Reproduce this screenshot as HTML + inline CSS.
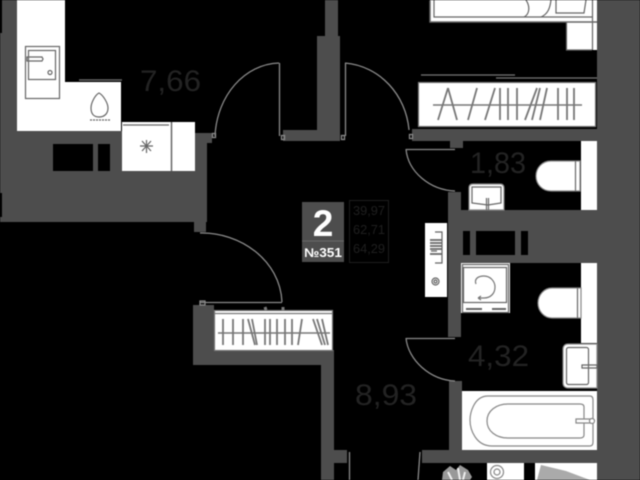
<!DOCTYPE html>
<html><head><meta charset="utf-8"><style>
html,body{margin:0;padding:0;background:#000;width:640px;height:480px;overflow:hidden}
svg{display:block;filter:blur(.45px)}
text{font-family:"Liberation Sans",sans-serif}
</style></head><body>
<svg width="640" height="480" viewBox="0 0 640 480" xmlns="http://www.w3.org/2000/svg">
<rect width="640" height="480" fill="#000"/>
<g fill="#4d4d4d">
<path d="M2 0H17V131H195V122H195V133H212V143H207V222H206V232H194V222H0V217H2V193H0V33H2Z"/>
<rect x="325" y="0" width="13" height="36"/>
<rect x="317" y="36" width="23" height="105"/>
<rect x="283" y="130" width="37" height="11"/>
<rect x="597" y="0" width="43" height="480"/>
<rect x="412" y="129" width="185" height="12"/>
<rect x="450" y="141" width="13" height="7"/>
<rect x="448" y="192" width="13" height="145"/>
<rect x="448" y="210" width="192" height="53"/>
<rect x="449" y="381" width="13" height="75"/>
<rect x="422" y="450" width="175" height="13"/>
<rect x="321" y="450" width="26" height="13"/>
<rect x="321" y="350" width="13" height="130"/>
<path d="M193 305H214V351H334V365H193Z"/>
</g>
<g fill="#000">
<rect x="53" y="144" width="40" height="27"/><rect x="98" y="144" width="12" height="27"/>
<rect x="463" y="231" width="7" height="24"/><rect x="476" y="231" width="39" height="24"/><rect x="521" y="231" width="7" height="24"/>
</g>
<g fill="#fff">
<path d="M17 0H65V82H121V131H17Z"/>
<rect x="122" y="122" width="73" height="49"/>
<rect x="430" y="0" width="167" height="22"/>
<rect x="566" y="22" width="31" height="28"/>
<rect x="418" y="82" width="178" height="45"/>
<rect x="214" y="310" width="119" height="41"/>
<rect x="581" y="141" width="16" height="69"/>
<rect x="581" y="263" width="16" height="80"/>
<rect x="425" y="223" width="22" height="74"/>
<rect x="461" y="263" width="49" height="50"/>
<rect x="462" y="391" width="135" height="59"/>
<rect x="487" y="463" width="37" height="17"/>
<rect x="535" y="463" width="62" height="17"/>
</g>
<g fill="none" stroke="#666" stroke-width="1.200">
<rect x="25.500" y="46.500" width="34" height="52"/>
<rect x="28.500" y="50.500" width="27" height="29"/>
<path d="M27 57H42L43 59L42 61H27Z"/>
<circle cx="50" cy="72.500" r="2"/>
<path d="M99 93C95 95 91 103 91 108C91 114 94 117 99 117C104 117 108 114 108 108C108 103 103 95 99 93Z"/>
<path d="M90 120H110" stroke-dasharray="2 1"/>
<path d="M79 80H122" stroke-width="1.500"/>
<path d="M171.500 122V171" stroke-width="1.500"/>
<path d="M123 125H169"/>
<path d="M140 146H153M146.500 140V153M142 141L151 151M151 141L142 151"/>
<g stroke="#8a8a8a" stroke-width="1.300">
<path d="M279.500 63V136"/><path d="M279 63C245 64 217 95 215 136"/>
<path d="M345.500 63V136"/><path d="M345 63C380 66 406 95 409 130"/>
<path d="M406 149.500H455"/><path d="M406 149C408 172 430 190 455 191"/>
<path d="M406 338.500H455"/><path d="M406 338C408 360 430 380 455 381"/>
<path d="M200 302.500H282"/><path d="M200 233C240 232 280 260 282 302"/>
<path d="M349.500 452V480"/><path d="M420 452L418 480"/>
<rect x="212.500" y="133.500" width="3" height="4"/><rect x="281.500" y="135.500" width="3" height="4"/>
<rect x="341.500" y="135.500" width="3" height="4"/><rect x="409.500" y="134.500" width="3" height="4"/>
<rect x="200" y="301" width="5" height="4"/>
</g>
<path d="M430 .5V22H597" stroke-width="1.500"/>
<path d="M434 0V17H592M592.500 0V50M566.500 22V50H592" stroke-width="1.200"/>
<path d="M526 0C530 6 530 14 524 17M551 0C550 8 548 14 541 17M556 0V13H584L586 0"/>
<path d="M421 75H515M496 78H597" stroke="#777" stroke-width="1.300"/>
<rect x="418.500" y="82.500" width="177" height="44" stroke="#777"/>
<rect x="214.500" y="310.500" width="118" height="40" stroke="#777"/>
<path d="M215 313.500H333" stroke="#777"/>
<path d="M580 161H551C542 161 536 168 536 176C536 184 542 191 551 191H580Z" fill="#fff" stroke="#888"/>
<path d="M575.500 161V191"/>
<path d="M581 288H552C544 288 538 295 538 303C538 311 544 318 552 318H581Z" fill="#fff" stroke="#888"/>
<path d="M577.500 288V318"/>
<path d="M469 210V188C469 185 471 184 473 184H500C502 184 504 185 504 188V210Z" fill="#fff" stroke="#888"/>
<path d="M472 187H501V203L488 205L472 203Z"/>
<path d="M486.500 198V210M488.500 198V210"/>
<path d="M597 344H568C565 344 563 346 563 349V383C563 386 565 388 568 388H597Z" fill="#fff" stroke="#888"/>
<rect x="566.500" y="347.500" width="22" height="37" rx="2"/>
<path d="M582 365H597V368H582Z"/>
<path d="M431 251H437M435 232H442V263H435"/>
<path d="M430 240H442M430 243H442M430 246H442M430 249H442M430 254H442" stroke-width="1.800"/>
<circle cx="435.500" cy="281.500" r="3.500"/>
<circle cx="435.500" cy="281.500" r="1.500"/>
<rect x="462.500" y="264.500" width="46" height="48"/>
<rect x="463.500" y="267.500" width="43" height="35"/>
<path d="M476 284C474 279 478 276 484 276C490 276 495 281 495 287C495 294 490 298 484 298H478M478 298L481 296M478 298L481 300" stroke="#777"/>
<path d="M466 309H482M492 309H506" stroke-width="2"/>
<path d="M590 396H488C473 396 470 415 470 420C470 430 476 446 492 446H590C592 446 593 445 593 442V400C593 397 592 396 590 396Z" stroke="#888"/>
<path d="M580 404H508C496 404 487 411 487 421C487 431 496 438 508 438H580C583 438 584 437 584 435V407C584 405 583 404 580 404Z" stroke="#888"/>
<path d="M576 419H592V423H576Z" fill="#fff" stroke="#888"/>
<circle cx="592" cy="421" r="2.500" fill="#fff" stroke="#888"/>
<circle cx="497" cy="472" r="6.500" stroke="#888"/>
<circle cx="497" cy="472" r="3" stroke="#888"/>
</g>
<g stroke="#777" fill="none">
<path d="M433 105H582" stroke-width="1.500"/>
<path d="M448 88L438 120M448 88L457 120M477 88L468 120M495 88L485 120M500 88V120M508 88V120M517 88V120M537 88L525 120M540 88L532 120M547 88L540 120M558 88V120M567 88V120M574 88V120" stroke-width="1.800"/>
</g>
<g stroke="#777" fill="none">
<path d="M218 333H330" stroke-width="1.500"/>
<path d="M223 319V345M233 319V345M243 319V345M248 319L255 345M252 319L257 345M265 319V345M270 319V345M277 319V345M285 319V345M292 319V345M302 319L298 345M313 319L322 345M317 319L325 345M322 319L328 345" stroke-width="1.800"/>
<path d="M265 307L266 310M283 307V310" stroke-width="3"/>
</g>
<path d="M541 465L566 471L590 480H537Z" fill="#aaa"/>
<path d="M443 472L450 466L456 470L460 465L468 470L472 477L470 480H442Z" fill="#999"/>
<path d="M448 472L452 480M458 468L460 480M465 472L463 480" stroke="#eee" stroke-width="2"/>
<g fill="#232323" font-size="30">
<text x="140" y="91" textLength="61" lengthAdjust="spacingAndGlyphs">7,66</text>
<text x="470" y="173" textLength="56" lengthAdjust="spacingAndGlyphs">1,83</text>
<text x="468" y="366" textLength="61" lengthAdjust="spacingAndGlyphs">4,32</text>
<text x="355" y="405" textLength="62" lengthAdjust="spacingAndGlyphs">8,93</text>
</g>
<rect x="302" y="202" width="42" height="60" fill="#4d4d4d"/>
<path d="M302 241H344" stroke="#6a6a6a"/>
<text x="323" y="236" font-size="37" font-weight="bold" fill="#fff" text-anchor="middle">2</text>
<text x="323" y="257" font-size="12.500" font-weight="bold" fill="#fff" text-anchor="middle" textLength="38" lengthAdjust="spacingAndGlyphs">№351</text>
<rect x="349.500" y="200.500" width="39" height="62" fill="none" stroke="#1e1e1e"/>
<g fill="#1f1f1f" font-size="13" text-anchor="middle">
<text x="369" y="215" textLength="32" lengthAdjust="spacingAndGlyphs">39,97</text>
<text x="369" y="234" textLength="32" lengthAdjust="spacingAndGlyphs">62,71</text>
<text x="369" y="253" textLength="32" lengthAdjust="spacingAndGlyphs">64,29</text>
</g>
</svg>
</body></html>
